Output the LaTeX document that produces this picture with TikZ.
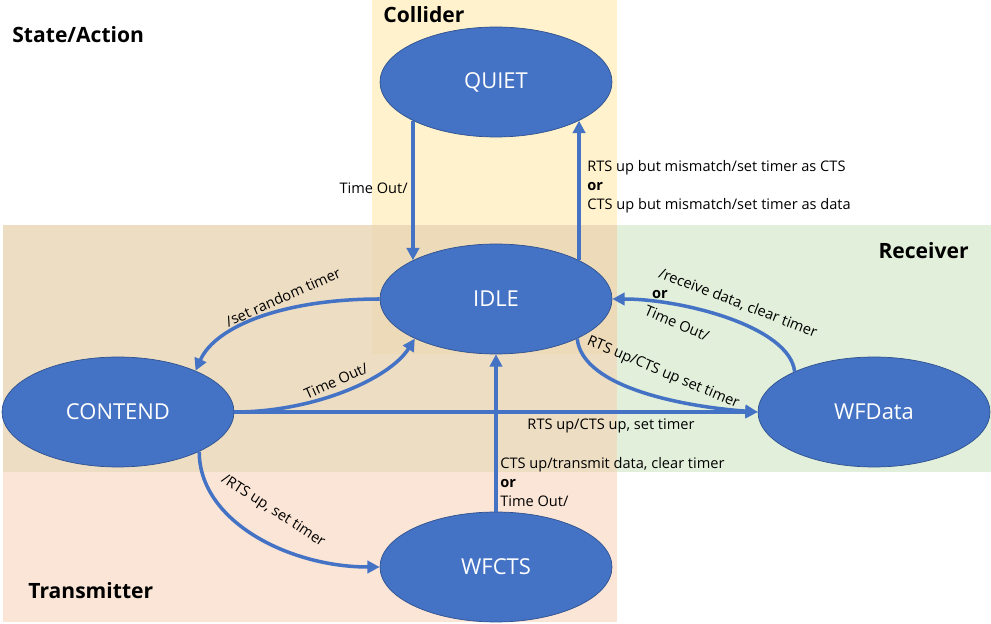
\documentclass[tikz,border=0pt]{standalone}
\usepackage{fontspec}
\setmainfont{Open Sans}
\usetikzlibrary{shapes.geometric,arrows.meta}
\definecolor{stateblue}{HTML}{4472C4}
\definecolor{stateedge}{HTML}{2F528F}
\definecolor{collidercol}{HTML}{FFF2CC}
\definecolor{receivercol}{HTML}{E2EFDA}
\definecolor{transmittercol}{HTML}{FBE5D6}
\definecolor{contendcol}{HTML}{EDDDC3}
\definecolor{overlapcol}{HTML}{EDDAB8}
\tikzset{
  state/.style={ellipse,fill=stateblue,draw=stateedge,thin,minimum width=4.64cm,minimum height=2.2cm,inner sep=0pt,text=white,font=\fontsize{12.5}{14}\selectfont},
  trans/.style={draw=stateblue,line width=2pt,-{Triangle[length=7pt,width=7pt]}},
  lbl/.style={font=\fontsize{8.3}{10.8}\selectfont,inner sep=0pt},
  areatitle/.style={font=\fontsize{12}{14}\selectfont\bfseries,inner sep=0pt}
}
\begin{document}
\begin{tikzpicture}[x=0.02cm,y=-0.02cm]
\useasboundingbox (0,0) rectangle (991,624);
% role areas
\fill[transmittercol] (3,472) rectangle (617,622);
\fill[contendcol] (3,225) rectangle (617,472);
\fill[receivercol] (617,225) rectangle (991,472);
\fill[collidercol] (372,0) rectangle (617,225);
\fill[overlapcol] (372,225) rectangle (617,354);

\node[areatitle,anchor=west] (statetitle) at (12,35) {State/Action};
\node[areatitle,anchor=west] (collidertitle) at (383,15) {Collider};
\node[areatitle,anchor=east] (receivertitle) at (969,251) {Receiver};
\node[areatitle,anchor=west] (transmittertitle) at (28,591) {Transmitter};

% states
\node[state] (quiet) at (496,82) {QUIET};
\node[state] (idle) at (496,299) {IDLE};
\node[state] (contend) at (118,412) {CONTEND};
\node[state] (wfdata) at (874,412) {WFData};
\node[state] (wfcts) at (496,567) {WFCTS};

% transitions
\draw[trans] (quiet.205) -- (idle.155);
\draw[trans] (idle.25) -- (quiet.335);
\draw[trans] (idle.west) .. controls +(-95,0) and +(20,-45) .. (contend.28);
\draw[trans] (contend.east) .. controls +(80,0) and +(-25,40) .. (idle.206);
\draw[trans] (contend.east) -- (wfdata.west);
\draw[trans] (idle.334) .. controls +(5,50) and +(-70,-5) .. (wfdata.west);
\draw[trans] (wfdata.153) .. controls +(-5,-45) and +(70,0) .. (idle.east);
\draw[trans] (wfcts.north) -- (idle.south);
\draw[trans] (contend.334) .. controls +(0,70) and +(-90,0) .. (wfcts.west);

% labels
\node[lbl,anchor=east] (quietlbl) at (408,188) {Time Out/};
\node[lbl,anchor=west,align=left] (mismatchlbl) at (587,187) {RTS up but mismatch/set timer as CTS\\\textbf{or}\\CTS up but mismatch/set timer as data};
\node[lbl,rotate=24] (randomlbl) at (283,297) {/set random timer};
\node[lbl,rotate=24] (backlbl) at (336,381) {Time Out/};
\node[lbl] (directlbl) at (611,426) {RTS up/CTS up, set timer};
\node[lbl,rotate=-23] (idlewflbl) at (663,373) {RTS up/CTS up set timer};
\node[lbl,rotate=-21] (receivelbl) at (738,303) {/receive data, clear timer};
\node[lbl] (orlbl) at (660,295) {\textbf{or}};
\node[lbl,rotate=-23] (wftimelbl) at (677,323) {Time Out/};
\node[lbl,anchor=west,align=left] (ctslbl) at (500,482) {CTS up/transmit data, clear timer\\\textbf{or}\\Time Out/};
\node[lbl,rotate=-33] (wfctslbl) at (273,511) {/RTS up, set timer};
\end{tikzpicture}
\end{document}
